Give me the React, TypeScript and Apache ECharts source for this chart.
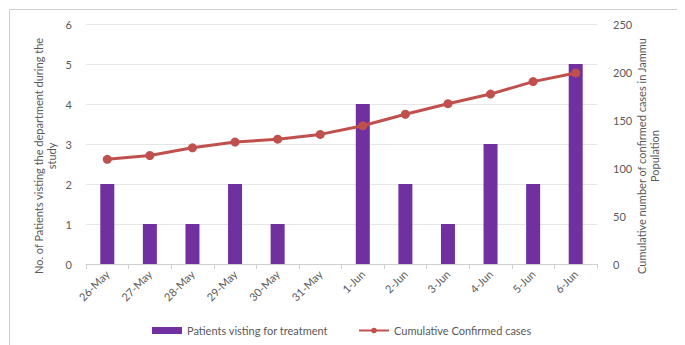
import React, { useEffect, useRef } from "react";
import * as echarts from "echarts";

const dates = ["26-May", "27-May", "28-May", "29-May", "30-May", "31-May", "1-Jun", "2-Jun", "3-Jun", "4-Jun", "5-Jun", "6-Jun"];
const patients = [2, 1, 1, 2, 1, 0, 4, 2, 1, 3, 2, 5];
const cumulative = [109, 113, 121, 127, 130, 135, 144, 156, 167, 177, 190, 199];

const leftTitle = ["No. of Patients visting the department during the", "study"];
const rightTitle = ["Cumulative number of confirmed cases in Jammu", "Population"];

const FONT = "Lato, 'Open Sans', sans-serif";
const TEXT = "#595959";

export default function App() {
  const ref = useRef<HTMLDivElement>(null);

  useEffect(() => {
    if (!ref.current) return;
    const chart = echarts.init(ref.current, null, { renderer: "svg" });
    chart.setOption({
      animation: false,
      textStyle: { fontFamily: FONT, color: TEXT },
      grid: { left: 78, right: 88, top: 16, bottom: 81 },
      legend: {
        bottom: 4,
        left: 139,
        itemGap: 30,
        itemWidth: 30,
        itemHeight: 7,
        textStyle: { fontFamily: FONT, color: TEXT, fontSize: 11 },
        data: [
          { name: "Patients visting for treatment", icon: "rect" },
          { name: "Cumulative Confirmed cases" },
        ],
      },
      xAxis: {
        type: "category",
        data: dates,
        boundaryGap: true,
        axisLine: { lineStyle: { color: "#d0d0d0" } },
        axisTick: { show: true, length: 5, lineStyle: { color: "#d0d0d0" } },
        axisLabel: { rotate: 45, color: TEXT, fontSize: 11, fontFamily: FONT, margin: 8 },
      },
      yAxis: [
        {
          type: "value",
          min: 0,
          max: 6,
          interval: 1,
          axisLine: { show: false },
          axisTick: { show: false },
          axisLabel: { color: TEXT, fontSize: 11, fontFamily: FONT, margin: 14 },
          splitLine: { lineStyle: { color: "#e6e6e6" } },
        },
        {
          type: "value",
          min: 0,
          max: 250,
          interval: 50,
          position: "right",
          axisLine: { show: false },
          axisTick: { show: false },
          axisLabel: { color: TEXT, fontSize: 11, fontFamily: FONT, margin: 16 },
          splitLine: { show: false },
        },
      ],
      series: [
        {
          name: "Patients visting for treatment",
          type: "bar",
          data: patients,
          barWidth: 14,
          itemStyle: { color: "#7030A0" },
        },
        {
          name: "Cumulative Confirmed cases",
          type: "line",
          yAxisIndex: 1,
          data: cumulative,
          symbol: "circle",
          symbolSize: 9,
          lineStyle: { color: "#C0504D", width: 3 },
          itemStyle: { color: "#C0504D" },
        },
      ],
      graphic: [
        { type: "line", shape: { x1: 1.5, y1: 1.5, x2: 676, y2: 1.5 }, style: { stroke: "#d0d0d0", lineWidth: 1 } },
        { type: "line", shape: { x1: 1.5, y1: 1.5, x2: 1.5, y2: 337 }, style: { stroke: "#d0d0d0", lineWidth: 1 } },
        {
          type: "text",
          x: 30,
          y: 148,
          rotation: Math.PI / 2,
          style: {
            text: leftTitle[0],
            fill: TEXT,
            font: `11px ${FONT}`,
            textAlign: "center",
            textVerticalAlign: "middle",
          },
        },
        {
          type: "text",
          x: 43,
          y: 148,
          rotation: Math.PI / 2,
          style: {
            text: leftTitle[1],
            fill: TEXT,
            font: `11px ${FONT}`,
            textAlign: "center",
            textVerticalAlign: "middle",
          },
        },
        {
          type: "text",
          x: 633,
          y: 148,
          rotation: Math.PI / 2,
          style: {
            text: rightTitle[0],
            fill: TEXT,
            font: `11px ${FONT}`,
            textAlign: "center",
            textVerticalAlign: "middle",
          },
        },
        {
          type: "text",
          x: 646,
          y: 148,
          rotation: Math.PI / 2,
          style: {
            text: rightTitle[1],
            fill: TEXT,
            font: `11px ${FONT}`,
            textAlign: "center",
            textVerticalAlign: "middle",
          },
        },
      ],
    });
    return () => chart.dispose();
  }, []);

  return <div ref={ref} style={{ width: 677, height: 337 }} />;
}
